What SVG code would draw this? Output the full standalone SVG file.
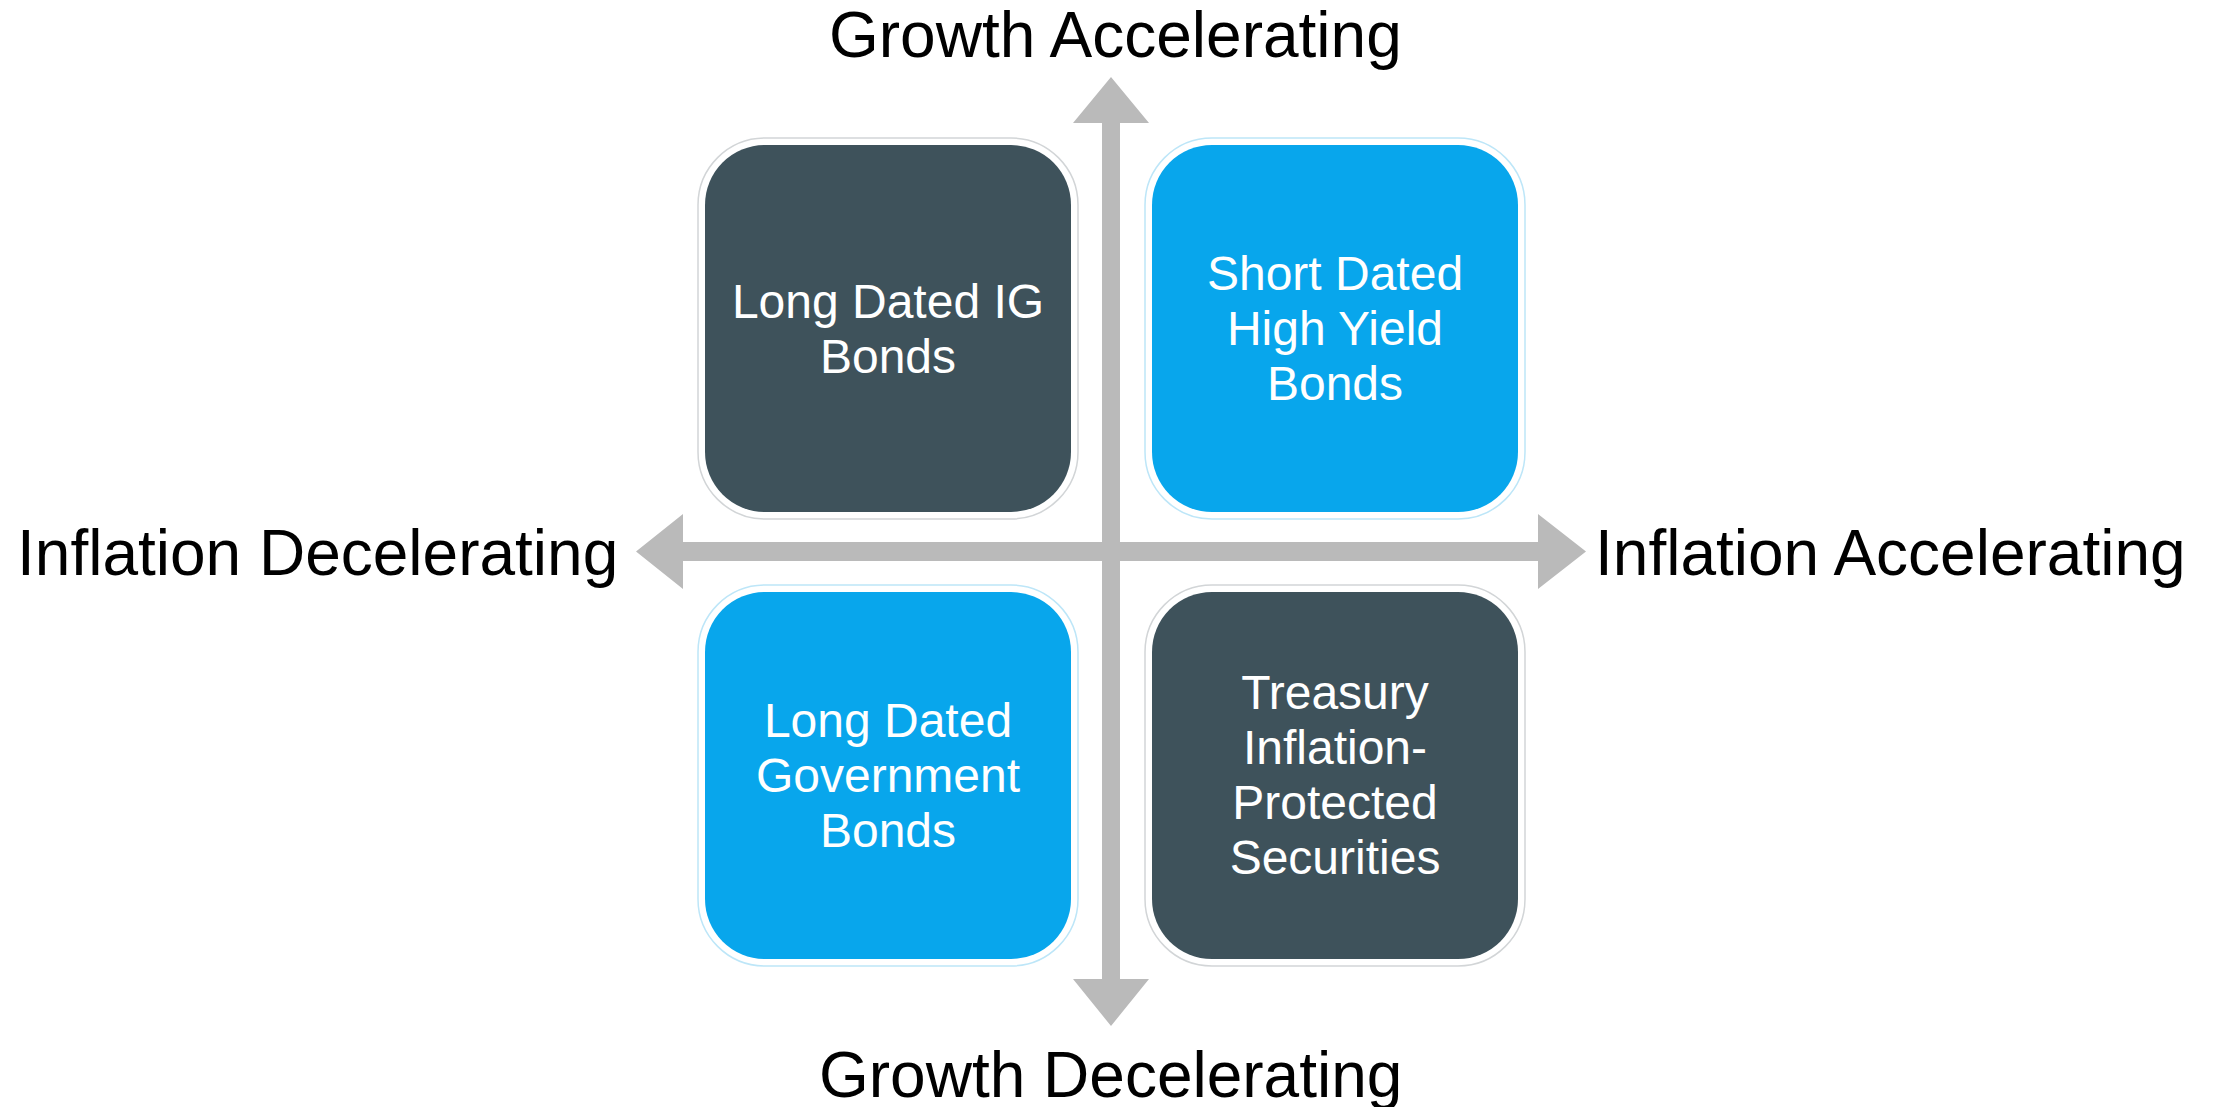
<svg xmlns="http://www.w3.org/2000/svg" width="2216" height="1107" viewBox="0 0 2216 1107">
  <style>
    .axis-label { font-family: "Liberation Sans", Arial, sans-serif; font-size: 64px; fill: #000000; }
    .box-label { font-family: "Liberation Sans", Arial, sans-serif; font-size: 48px; fill: #FFFFFF; text-anchor: middle; }
    .arrow { fill: #BABABA; }
    .halo { fill: #FFFFFF; stroke-width: 1.5; }
    .halo-dark { stroke: #D2D5D7; }
    .halo-blue { stroke: #BDE6F8; }
    .dark { fill: #3E525B; }
    .blue { fill: #08A6EC; }
  </style>

  <!-- axes: growth (vertical) and inflation (horizontal), double-headed -->
  <g id="connectors">
    <polygon class="arrow" points="1102,123 1073,123 1111,77 1149,123 1120,123 1120,979 1149,979 1111,1026 1073,979 1102,979"/>
    <polygon class="arrow" points="683,542 683,514 636,551.5 683,589 683,561 1538,561 1538,589 1586,551.5 1538,514 1538,542"/>
  </g>

  <!-- quadrant: growth up, inflation down -->
  <g id="node-long-dated-ig">
    <rect class="halo halo-dark" x="698" y="138" width="380" height="381" rx="67" ry="67"/>
    <rect class="dark" x="705" y="145" width="366" height="367" rx="60" ry="60"/>
    <text class="box-label" x="888" y="318">Long Dated IG</text>
    <text class="box-label" x="888" y="373">Bonds</text>
  </g>

  <!-- quadrant: growth up, inflation up -->
  <g id="node-short-dated-hy">
    <rect class="halo halo-blue" x="1145" y="138" width="380" height="381" rx="67" ry="67"/>
    <rect class="blue" x="1152" y="145" width="366" height="367" rx="60" ry="60"/>
    <text class="box-label" x="1335" y="290">Short Dated</text>
    <text class="box-label" x="1335" y="345">High Yield</text>
    <text class="box-label" x="1335" y="400">Bonds</text>
  </g>

  <!-- quadrant: growth down, inflation down -->
  <g id="node-long-dated-govt">
    <rect class="halo halo-blue" x="698" y="585" width="380" height="381" rx="67" ry="67"/>
    <rect class="blue" x="705" y="592" width="366" height="367" rx="60" ry="60"/>
    <text class="box-label" x="888" y="737">Long Dated</text>
    <text class="box-label" x="888" y="792">Government</text>
    <text class="box-label" x="888" y="847">Bonds</text>
  </g>

  <!-- quadrant: growth down, inflation up -->
  <g id="node-tips">
    <rect class="halo halo-dark" x="1145" y="585" width="380" height="381" rx="67" ry="67"/>
    <rect class="dark" x="1152" y="592" width="366" height="367" rx="60" ry="60"/>
    <text class="box-label" x="1335" y="709">Treasury</text>
    <text class="box-label" x="1335" y="764">Inflation-</text>
    <text class="box-label" x="1335" y="819">Protected</text>
    <text class="box-label" x="1335" y="874">Securities</text>
  </g>

  <!-- axis end labels -->
  <g id="axis-labels">
    <text class="axis-label" x="829" y="57" font-size="63">Growth Accelerating</text>
    <text class="axis-label" x="819" y="1097" font-size="63">Growth Decelerating</text>
    <text class="axis-label" x="17" y="575">Inflation Decelerating</text>
    <text class="axis-label" x="1595" y="575">Inflation Accelerating</text>
  </g>
</svg>
